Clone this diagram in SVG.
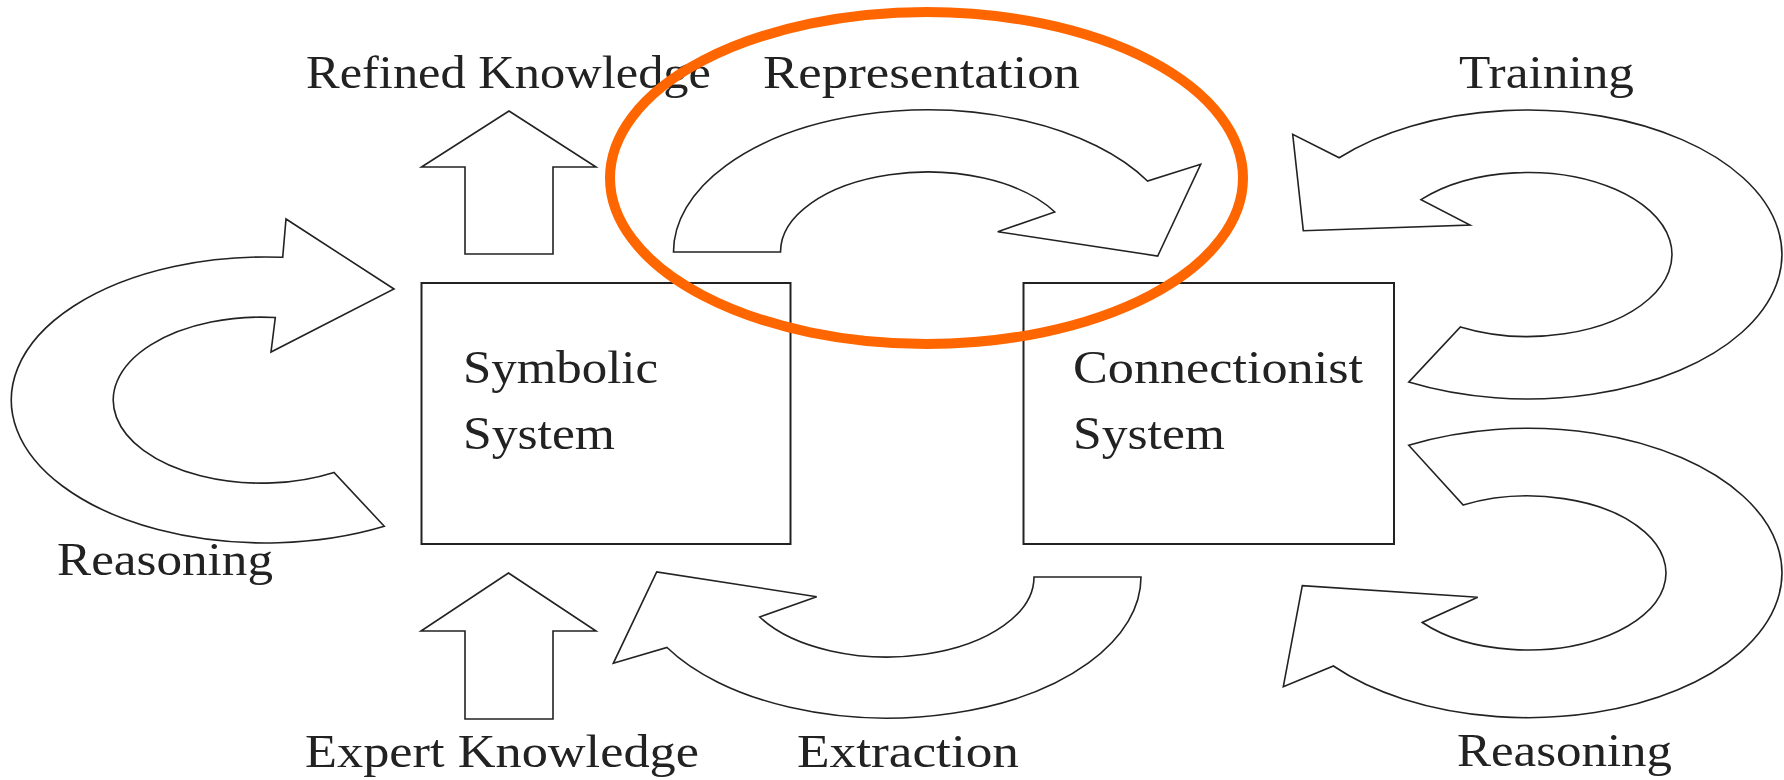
<svg xmlns="http://www.w3.org/2000/svg" width="1784" height="780" viewBox="0 0 1784 780">
  <style>
    .box { fill: #ffffff; stroke: #222222; stroke-width: 2; }
    .arr { fill: #ffffff; stroke: #222222; stroke-width: 1.6; stroke-linejoin: miter; }
    .lbl { font-family: "Liberation Serif", "Times New Roman", serif; font-size: 46px; fill: #222222; }
    .hl { fill: none; stroke: #FF6600; stroke-width: 10; }
  </style>
  <rect width="1784" height="780" fill="#ffffff"/>

  <g id="connectors">
    <!-- left Reasoning loop -->
    <path class="arr" d="M 384.3 526.3 A 254 143 0 1 1 282.7 257.3 L 286 219 L 394 289 L 271 352 L 275.3 317.5 A 148 83 0 1 0 334 472.4 Z"/>
    <!-- Representation -->
    <path class="arr" d="M 673.5 252 A 254 142 0 0 1 1147.5 181 L 1200.7 164.3 L 1157.7 256 L 997.7 231.7 L 1054.8 212 A 147 80 0 0 0 780.5 252 Z"/>
    <!-- Extraction -->
    <path class="arr" d="M 1141 577 A 254 141 0 0 1 667 647.5 L 613.3 663.3 L 656.7 572 L 816.7 596.7 L 759.7 617 A 147 80 0 0 0 1034 577 Z"/>
    <!-- Training -->
    <path class="arr" d="M 1408.7 382.1 A 254 144.5 0 1 0 1339.2 157.8 L 1292.7 134.3 L 1303.3 230.7 L 1470 225 L 1421 199.6 A 144 82 0 1 1 1460.4 326.9 Z"/>
    <!-- right Reasoning -->
    <path class="arr" d="M 1408.7 445.2 A 254 144.7 0 1 1 1333.4 666 L 1283.3 686.7 L 1302.3 585.7 L 1477.7 597.3 L 1422.3 622.5 A 138 77 0 1 0 1463.2 505 Z"/>
    <!-- Refined Knowledge up arrow -->
    <polygon class="arr" points="509,111 596,167 553,167 553,254 465,254 465,167 421.5,167"/>
    <!-- Expert Knowledge up arrow -->
    <polygon class="arr" points="508.5,573 596,631 553,631 553,719 465,719 465,631 421,631"/>
  </g>

  <g id="symbolic">
    <rect class="box" x="421.5" y="283" width="369" height="261"/>
    <text class="lbl" x="463" y="383" textLength="195" lengthAdjust="spacingAndGlyphs">Symbolic</text>
    <text class="lbl" x="463" y="449" textLength="152" lengthAdjust="spacingAndGlyphs">System</text>
  </g>

  <g id="connectionist">
    <rect class="box" x="1023.5" y="283" width="370.5" height="261"/>
    <text class="lbl" x="1073" y="383" textLength="290" lengthAdjust="spacingAndGlyphs">Connectionist</text>
    <text class="lbl" x="1073" y="449" textLength="152" lengthAdjust="spacingAndGlyphs">System</text>
  </g>

  <g id="labels">
    <text class="lbl" x="306" y="88" textLength="405" lengthAdjust="spacingAndGlyphs">Refined Knowledge</text>
    <text class="lbl" x="763" y="88" textLength="317" lengthAdjust="spacingAndGlyphs">Representation</text>
    <text class="lbl" x="1459" y="88" textLength="175" lengthAdjust="spacingAndGlyphs">Training</text>
    <text class="lbl" x="57" y="575" textLength="216" lengthAdjust="spacingAndGlyphs">Reasoning</text>
    <text class="lbl" x="305" y="767" textLength="394" lengthAdjust="spacingAndGlyphs">Expert Knowledge</text>
    <text class="lbl" x="797" y="767" textLength="222" lengthAdjust="spacingAndGlyphs">Extraction</text>
    <text class="lbl" x="1457" y="766" textLength="215" lengthAdjust="spacingAndGlyphs">Reasoning</text>
  </g>

  <g id="highlight">
    <ellipse class="hl" cx="926.5" cy="178" rx="316.5" ry="166"/>
  </g>
</svg>
